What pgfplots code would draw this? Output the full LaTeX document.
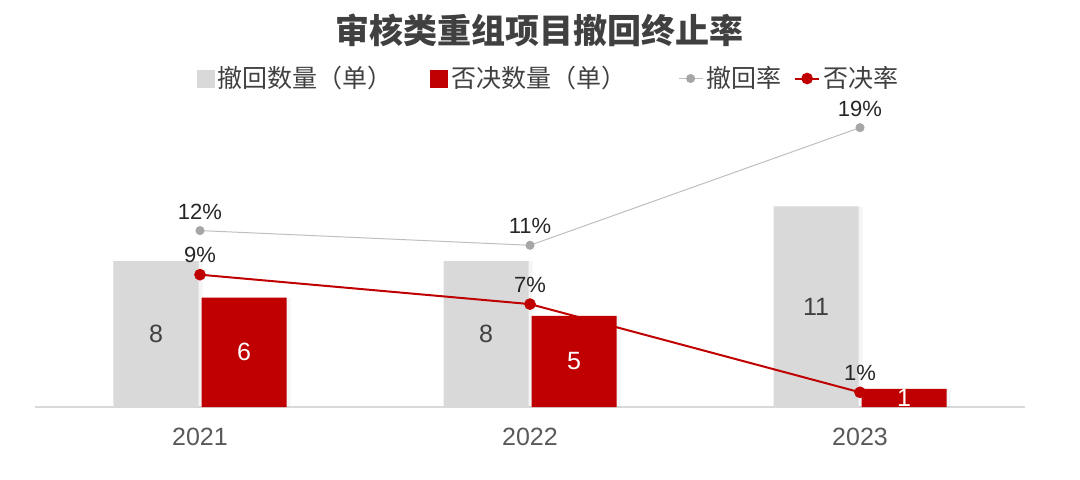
\documentclass[border=0pt]{standalone}
\usepackage{fontspec}
\setmainfont{Liberation Sans}
\newfontfamily\cjk{Noto Sans CJK SC}
\usepackage{pgfplots}
\pgfplotsset{compat=1.18}
\usetikzlibrary{shadows}
\definecolor{barlt}{HTML}{D9D9D9}
\definecolor{barred}{HTML}{C00000}
\definecolor{linegray}{HTML}{BFBFBF}
\definecolor{markgray}{HTML}{A6A6A6}
\definecolor{txt}{HTML}{404040}
\definecolor{txtlt}{HTML}{595959}

\begin{document}
\begin{tikzpicture}
\useasboundingbox (-17.5pt,-36pt) rectangle (522.5pt,203.5pt);
\pgfplotsset{
  combo/.style={
    width=495pt, height=146pt, scale only axis,
    at={(0pt,0pt)}, anchor=south west,
    xmin=-0.5, xmax=2.5, clip=false,
  }
}
% counts, left scale
\begin{axis}[combo,
  ymin=0, ymax=16,
  axis x line*=bottom, axis y line=none,
  x axis line style={draw=barlt, line width=0.6pt, -},
  xtick={0,1,2}, xticklabels={2021,2022,2023},
  major tick length=0pt,
  xticklabel style={font=\fontsize{12.5pt}{15pt}\selectfont, text=txtlt, yshift=-7pt},
  ybar=1.5pt, bar width=42.5pt,
  every axis plot/.append style={/tikz/drop shadow={shadow xshift=2pt, shadow yshift=0pt, opacity=0.08}},
]
\addplot[fill=barlt, draw=none] coordinates {(0,8) (1,8) (2,11)};
\addplot[fill=barred, draw=none] coordinates {(0,6) (1,5) (2,1)};
\begin{scope}[every node/.style={font=\fontsize{12.5pt}{15pt}\selectfont}]
\node[text=txt, xshift=-22pt] at (axis cs:0,4) {8};
\node[text=txt, xshift=-22pt] at (axis cs:1,4) {8};
\node[text=txt, xshift=-22pt] at (axis cs:2,5.5) {11};
\node[text=white, xshift=22pt] at (axis cs:0,3) {6};
\node[text=white, xshift=22pt] at (axis cs:1,2.5) {5};
\node[text=white, xshift=22pt] at (axis cs:2,0.5) {1};
\end{scope}
\end{axis}
% rates, right scale (hidden)
\begin{axis}[combo,
  ymin=0, ymax=19.86,
  axis lines=none,
  title={\cjk 审核类重组项目撤回终止率},
  title style={at={(0.51,1.25)}, anchor=center, font=\cjk\bfseries\fontsize{17pt}{20pt}\selectfont, text=txt},
  /pgf/number format/assume math mode=true,
  nodes near coords={\pgfmathprintnumber{\pgfplotspointmeta}\%},
  every node near coord/.append style={font=\fontsize{11pt}{13pt}\selectfont, text=black!85, anchor=south, yshift=2pt},
  legend columns=4,
  legend style={at={(0.519,1.125)}, anchor=center, draw=none, fill=none,
    font=\cjk\fontsize{12.5pt}{14pt}\selectfont, text=txt,
    nodes={inner sep=1.5pt},
    /tikz/column 2/.style={column sep=17.5pt},
    /tikz/column 4/.style={column sep=24.5pt},
    /tikz/column 6/.style={column sep=5pt}},
  legend image code/.code={\draw[mark repeat=2, mark phase=2, #1] plot coordinates {(0pt,0pt) (6pt,0pt) (12pt,0pt)};},
]
\addlegendimage{legend image code/.code={\fill[barlt] (0pt,-4.25pt) rectangle (8.5pt,4.25pt);}}
\addlegendentry{撤回数量（单）}
\addlegendimage{legend image code/.code={\fill[barred] (0pt,-4.25pt) rectangle (8.5pt,4.25pt);}}
\addlegendentry{否决数量（单）}
\addplot[color=linegray, line width=0.5pt, mark=*, mark size=2pt, mark options={fill=markgray, draw=markgray}]
  coordinates {(0,12) (1,11) (2,19)};
\addlegendentry{撤回率}
\addplot[color=barred, line width=1pt, mark=*, mark size=2.4pt, mark options={fill=barred, draw=barred}]
  coordinates {(0,9) (1,7) (2,1)};
\addlegendentry{否决率}
\end{axis}
\end{tikzpicture}
\end{document}
